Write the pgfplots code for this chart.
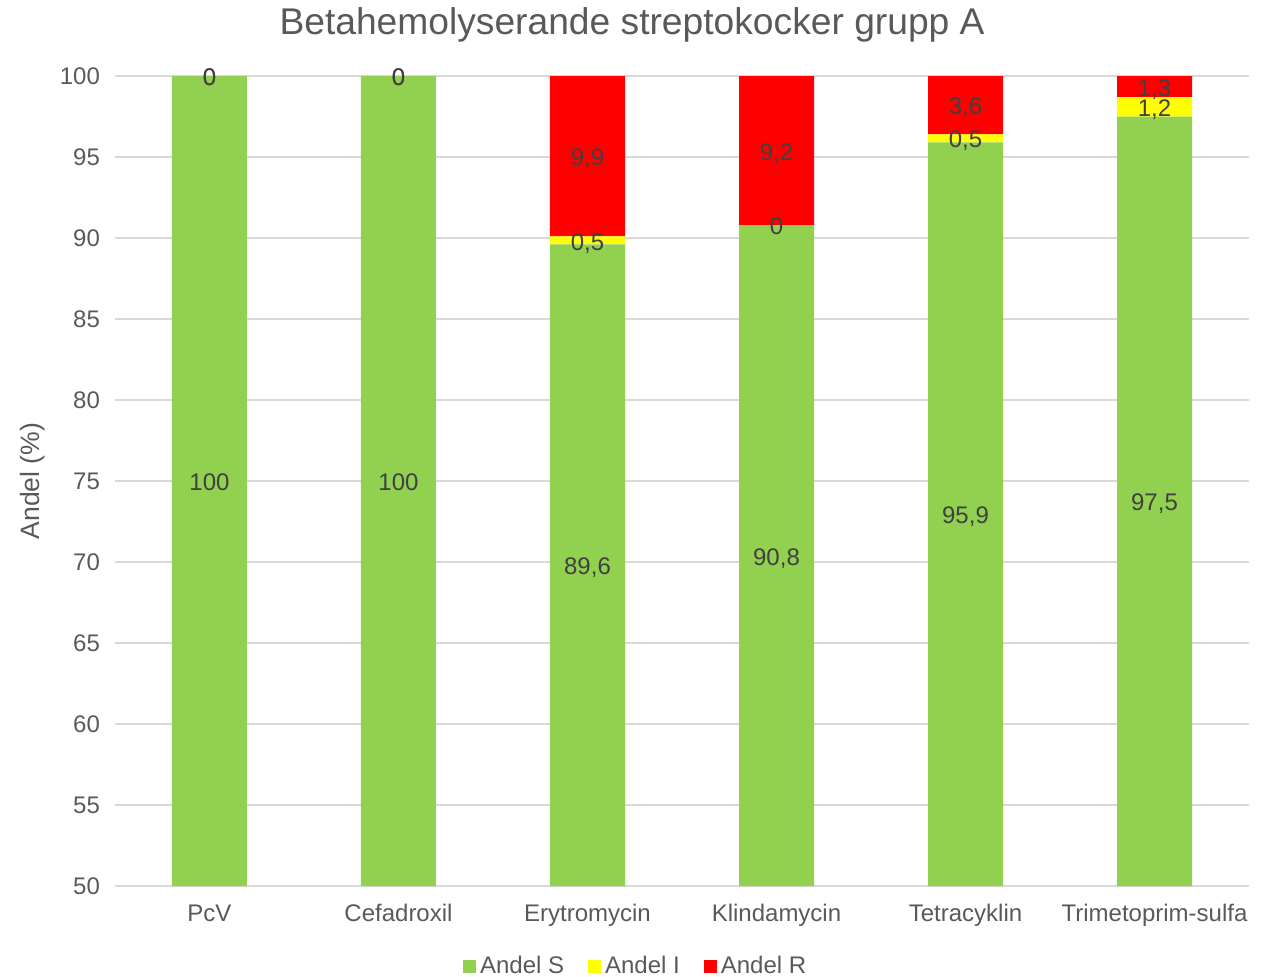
\documentclass[border=0pt]{standalone}
\usepackage{pgfplots}
\pgfplotsset{compat=1.18}
\usepackage{pgfplotstable}
\usepackage{fontspec}
\setmainfont{Liberation Sans}

\definecolor{sgreen}{RGB}{146,208,80}
\definecolor{syellow}{RGB}{255,255,0}
\definecolor{sred}{RGB}{255,0,0}
\definecolor{gridgray}{RGB}{217,217,217}
\definecolor{txtgray}{RGB}{89,89,89}
\definecolor{lblgray}{RGB}{64,64,64}

\pgfplotstableread{
x name S I R
0 PcV 100 0 0
1 Cefadroxil 100 0 0
2 Erytromycin 89.6 0.5 9.9
3 Klindamycin 90.8 0 9.2
4 Tetracyklin 95.9 0.5 3.6
5 Trimetoprim-sulfa 97.5 1.2 1.3
}\data

\pgfplotsset{
  base/.style={
    width=567pt, height=405pt, scale only axis,
    xmin=-0.5, xmax=5.5, ymin=50, ymax=100,
    at={(0,0)}, anchor=south west,
  },
  lbl/.style={
    only marks, mark=none,
    nodes near coords={\pgfmathprintnumber[use comma,fixed,precision=1,assume math mode=true]{\pgfplotspointmeta}},
    every node near coord/.style={anchor=base, yshift=-4.8pt, inner sep=0pt,
      text=lblgray, font=\fontsize{12}{14}\selectfont},
  },
}

\begin{document}
\begin{tikzpicture}
\useasboundingbox (-57.5pt,-45pt) rectangle (574pt,443pt);

\begin{axis}[
  base,
  ybar stacked, bar width=37.5pt,
  axis line style={draw=none},
  major tick length=0pt,
  ytick={50,55,...,100},
  ymajorgrids, grid style={gridgray, line width=0.8pt},
  xtick=data,
  xticklabels from table={\data}{name},
  /pgf/number format/assume math mode=true,
  ticklabel style={text=txtgray, font=\fontsize{12}{14}\selectfont},
  xticklabel style={anchor=base, yshift=-17.5pt},
  yticklabel style={anchor=east, xshift=-4pt},
  ylabel={Andel (\%)},
  every axis y label/.style={at={(axis description cs:-0.0723,0.5)}, rotate=90, anchor=center,
    text=txtgray, font=\fontsize{13.3}{15}\selectfont},
  title={Betahemolyserande streptokocker grupp A},
  every axis title/.style={at={(axis description cs:0.456,1)}, anchor=center, yshift=25.5pt,
    text=txtgray, font=\fontsize{18.6}{21}\selectfont},
  legend columns=3,
  legend style={draw=none, fill=none, at={(axis description cs:0.46,-0.0995)}, anchor=center,
    font=\fontsize{12}{14}\selectfont, text=txtgray,
    /tikz/every even column/.append style={column sep=10pt},
    inner sep=0pt},
  legend image code/.code={\fill[#1] (0pt,-3.25pt) rectangle (6.5pt,3.25pt);},
]
\addplot[fill=sgreen, draw=none] table[x=x, y=S]{\data};
\addlegendentry{Andel S}
\addplot[fill=syellow, draw=none] table[x=x, y=I]{\data};
\addlegendentry{Andel I}
\addplot[fill=sred, draw=none] table[x=x, y=R]{\data};
\addlegendentry{Andel R}
\end{axis}

% data labels, centred on the visible part of each segment
\begin{axis}[base, hide axis, clip=false]
\addplot[lbl, point meta=\thisrow{S}] table[x=x, y expr={(50+\thisrow{S})/2}]{\data};
\addplot[lbl, point meta=\thisrow{I}] table[x=x, y expr={\thisrow{S}+\thisrow{I}/2}]{\data};
\addplot[lbl, point meta=\thisrow{R}] table[x=x, y expr={\thisrow{S}+\thisrow{I}+\thisrow{R}/2}]{\data};
\end{axis}
\end{tikzpicture}
\end{document}
